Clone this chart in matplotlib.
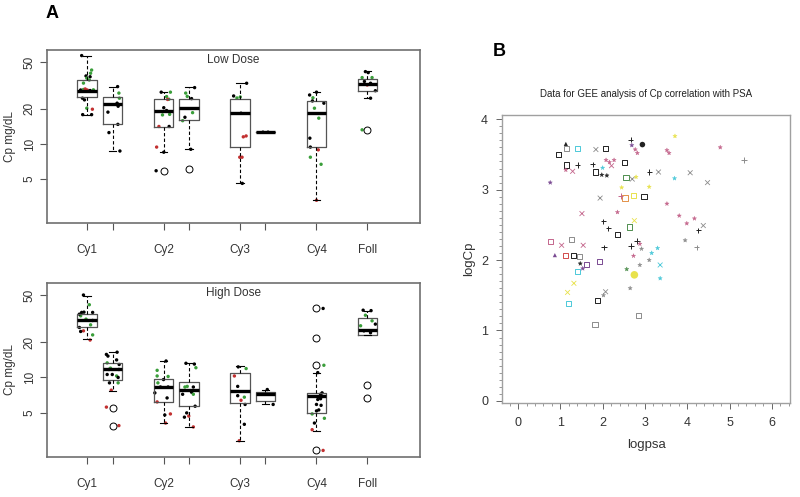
import numpy as np
import matplotlib
matplotlib.use('Agg')
import matplotlib.pyplot as plt
from matplotlib.ticker import FixedLocator, MultipleLocator, NullLocator, NullFormatter

plt.rcParams['font.family'] = ['Liberation Sans', 'DejaVu Sans']

# ---- panel A: box plots (Cp mg/dL, log scale) ----
positions = [1, 2, 4, 5, 7, 8, 10, 12]
xlabels = ['Cy1', '', 'Cy2', '', 'Cy3', '', 'Cy4', 'Foll']

low_whislo = [17.7, 8.7, 8.5, 9.0, 4.6, 12.6, 3.3, 24.6]
low_q1 = [25.1, 14.7, 14.0, 16.0, 9.4, 12.6, 9.4, 28.4]
low_med = [28.6, 21.8, 19.1, 20.4, 18.3, 12.6, 18.3, 32.7]
low_q3 = [35.2, 25.1, 24.1, 24.4, 24.4, 12.6, 23.3, 36.1]
low_whishi = [56.5, 30.9, 27.7, 30.6, 33.0, 12.6, 27.7, 42.1]
low_fliers = [[], [], [5.9], [6.1], [], [], [], [13.2]]

high_whislo = [21.1, 7.7, 4.1, 3.8, 2.9, 5.9, 3.5, 23.0]
high_q1 = [26.9, 9.6, 6.2, 5.7, 6.1, 6.3, 5.0, 23.0]
high_med = [30.7, 11.9, 8.3, 7.9, 7.7, 7.2, 6.9, 25.4]
high_q3 = [34.7, 13.3, 9.7, 9.1, 11.0, 7.5, 7.4, 31.9]
high_whishi = [49.5, 16.4, 13.8, 13.2, 12.5, 7.9, 11.0, 36.9]
high_fliers = [[], [5.5, 3.9], [], [], [], [], [38.6, 21.6, 12.7, 2.4], [8.6, 6.7]]

# individual patients (group index, jitter, value, colour code)
low_grp = [0]*20 + [1]*9 + [2]*14 + [3]*9 + [4]*10 + [5]*2 + [6]*13 + [7]*10
low_jit = [-0.21, 0.18, 0.14, -0.04, 0.12, -0.01, 0.09, -0.14, -0.25, -0.14, -0.07, 0.01, 0.12, 0.25, -0.18, -0.10, -0.01, 0.21, -0.17, 0.18,
           0.20, 0.25, 0.27, 0.18, 0.22, -0.18, 0.21, -0.14, 0.29,
           -0.09, 0.27, 0.12, 0.21, 0.16, 0.01, 0.12, -0.04, 0.24, -0.18, 0.22, -0.27, 0.01, -0.29,
           0.22, -0.13, -0.07, 0.10, 0.14, -0.16, -0.25, 0.07, -0.03,
           0.26, -0.25, -0.12, 0.01, 0.04, 0.13, 0.24, -0.01, 0.08, 0.09,
           -0.10, 0.10,
           0.0, -0.27, -0.14, -0.16, 0.29, -0.08, 0.09, -0.26, -0.24, 0.07, -0.24, 0.18, 0.0,
           0.03, -0.08, -0.21, 0.18, -0.12, -0.01, 0.12, 0.31, 0.12, -0.21]
low_val = [56.9, 42.8, 40.2, 38.1, 37.5, 36.5, 35.2, 33.1, 28.9, 29.2, 29.5, 28.9, 28.6, 29.0, 24.6, 23.8, 20.2, 19.8, 17.8, 17.8,
           30.9, 27.2, 24.6, 22.3, 21.0, 18.7, 14.7, 12.5, 8.7,
           27.7, 27.7, 25.4, 24.1, 24.0, 20.4, 19.3, 17.7, 17.9, 14.1, 14.1, 9.4, 8.5, 5.9,
           30.3, 27.2, 25.5, 24.4, 18.5, 16.9, 15.8, 9.0, 6.1,
           33.0, 25.7, 24.7, 25.2, 18.3, 11.5, 11.7, 7.7, 7.7, 4.6,
           12.6, 12.6,
           27.7, 26.2, 24.8, 23.3, 22.3, 20.2, 16.6, 11.2, 9.4, 8.9, 7.7, 6.7, 3.3,
           40.7, 41.5, 36.9, 36.9, 34.2, 31.9, 33.0, 28.5, 24.6, 13.2]
low_col = list('kggkkgggkgrrkgkkgrkk' 'kggkkkkkk' 'kgggrkkggrkrkk' 'kggkgkgkk'
               'kkggkrrrrk' 'kk' 'kkgkkggkkrggr' 'kkggkrkkkg')

high_grp = [0]*15 + [1]*18 + [2]*14 + [3]*14 + [4]*10 + [5]*5 + [6]*16 + [7]*9
high_jit = [-0.14, 0.09, -0.21, -0.12, 0.22, -0.25, -0.30, -0.04, 0.22, 0.14, -0.30, -0.14, -0.25, 0.22, 0.12,
            -0.24, -0.18, 0.18, -0.21, 0.16, 0.26, -0.14, -0.08, 0.25, -0.01, -0.21, 0.16, 0.22, -0.12, 0.22, -0.05, -0.24, 0.25,
            0.10, -0.25, 0.18, -0.25, 0.0, -0.22, 0.18, -0.12, -0.34, 0.14, -0.25, 0.05, 0.27, 0.08,
            -0.12, 0.21, 0.27, -0.16, 0.17, -0.07, 0.10, -0.25, 0.17, 0.24, -0.09, -0.01, -0.18, 0.17,
            -0.07, 0.24, -0.22, -0.09, -0.09, 0.17, 0.04, 0.20, 0.17, -0.03,
            0.07, -0.24, -0.08, 0.26, 0.30,
            0.26, 0.29, 0.05, 0.16, 0.22, 0.05, 0.16, 0.0, 0.18, 0.09, -0.17, 0.0, 0.31, -0.08, -0.17, 0.26,
            -0.17, 0.14, -0.08, 0.18, 0.31, -0.27, -0.14, 0.12, -0.08]
high_val = [50.2, 41.5, 35.7, 35.9, 35.7, 33.4, 34.5, 31.3, 30.5, 28.0, 26.6, 24.9, 24.6, 23.0, 20.8,
            15.7, 15.2, 16.4, 13.3, 14.1, 12.9, 11.7, 12.0, 11.7, 10.6, 10.6, 10.3, 10.0, 9.0, 9.0, 7.8, 5.6, 3.9,
            13.8, 11.5, 10.2, 10.3, 9.6, 9.0, 8.3, 8.3, 7.4, 6.7, 6.2, 4.8, 4.9, 4.1,
            13.2, 13.0, 12.1, 8.3, 8.3, 8.4, 7.5, 7.2, 7.2, 5.7, 5.0, 4.7, 4.6, 3.8,
            12.3, 11.9, 10.3, 8.4, 7.0, 6.8, 6.4, 5.9, 4.0, 2.9,
            7.9, 7.2, 7.3, 7.2, 5.9,
            38.6, 12.7, 11.0, 7.2, 7.4, 6.5, 6.6, 5.9, 5.8, 5.3, 4.9, 5.2, 4.5, 4.1, 3.6, 2.4,
            37.3, 37.0, 33.8, 30.3, 28.4, 27.5, 24.9, 24.0, 6.7]
high_col = list('kgkkkgkgkgkrkgr' 'kkkgkkkgkkkgkkgrrr' 'kgggkgkkkkrkrr' 'kkggkgkkgkkrkr'
                'kgrkkgrkkr' 'kkkkk' 'kgkkkkkkkkgkgkrr' 'kkggkgkkr')

dot_colours = {'k': '#000000', 'g': '#3a9e3a', 'r': '#c23030'}

# ---- panel B: scatter logCp vs logpsa ----
sq_x = [0.96, 1.40, 2.06, 1.15, 1.84, 2.51, 2.55, 2.53, 2.73, 2.98, 2.63, 2.35, 0.77, 1.27, 1.13, 1.31, 1.45, 1.62, 1.92, 1.41, 1.19, 1.88, 1.82, 2.84, 1.15]
sq_y = [3.50, 3.58, 3.58, 3.35, 3.25, 3.39, 3.17, 2.88, 2.92, 2.90, 2.47, 2.36, 2.26, 2.29, 2.06, 2.06, 2.05, 1.94, 1.98, 1.84, 1.38, 1.43, 1.09, 1.21, 3.58]
sq_c = ['k', 'c', 'k', 'k', 'k', 'k', 'g', 'o', 'y', 'k', 'g', 'k', 'p', 'gr', 'r', 'k', 'gr', 'pu', 'pu', 'c', 'c', 'k', 'gr', 'gr', 'gr']

cr_x = [1.84, 1.29, 2.21, 2.70, 1.94, 1.51, 2.75, 1.03, 1.54, 3.32, 4.07, 4.48, 4.38, 1.32, 1.17, 3.36, 2.07]
cr_y = [3.57, 3.26, 3.34, 3.15, 2.88, 2.66, 2.56, 2.21, 2.21, 3.25, 3.24, 3.10, 2.49, 1.67, 1.54, 1.93, 1.55]
cr_c = ['gr', 'p', 'p', 'gr', 'gr', 'p', 'y', 'p', 'p', 'gr', 'gr', 'gr', 'gr', 'y', 'y', 'c', 'gr']

pl_x = [2.66, 1.41, 1.76, 2.43, 2.02, 2.13, 2.03, 2.67, 2.81, 3.10, 5.34, 4.26, 4.22]
pl_y = [3.71, 3.35, 3.36, 2.91, 2.55, 2.45, 2.18, 2.20, 2.27, 3.25, 3.42, 2.42, 2.18]
pl_c = ['k', 'k', 'k', 'p', 'k', 'k', 'k', 'k', 'k', 'k', 'gr', 'k', 'gr']

st_x = [2.69, 2.77, 2.82, 1.13, 1.98, 2.10, 2.08, 2.16, 2.27, 0.76, 2.35, 3.71, 3.52, 3.57, 4.78, 3.70, 3.10, 3.52, 3.81,
        3.99, 4.17, 3.95, 3.30, 3.16, 1.47, 1.53, 2.02, 2.65, 2.57, 2.88, 2.73, 2.92, 2.88, 3.36, 2.00, 2.79, 2.45, 3.10]
st_y = [3.63, 3.57, 3.52, 3.28, 3.21, 3.20, 3.42, 3.39, 3.42, 3.10, 2.68, 3.76, 3.56, 3.52, 3.60, 3.16, 3.04, 2.80, 2.63,
        2.52, 2.59, 2.28, 2.17, 2.10, 1.95, 1.88, 1.50, 1.60, 1.87, 1.93, 2.06, 2.16, 2.23, 1.74, 3.31, 3.18, 3.03, 2.00]
st_c = ['pu', 'p', 'p', 'p', 'k', 'k', 'p', 'p', 'p', 'pu', 'p', 'y', 'p', 'p', 'p', 'c', 'y', 'p', 'p',
        'p', 'p', 'gr', 'c', 'c', 'k', 'pu', 'gr', 'gr', 'g', 'gr', 'p', 'gr', 'p', 'c', 'c', 'y', 'y', 'gr']

tri_x = [1.13, 0.87]
tri_y = [3.65, 2.07]
tri_c = ['k', 'pu']

dot_x = [2.94, 2.75]
dot_y = [3.64, 1.79]
dot_c = ['k', 'y']

b_colours = {'k': '#222222', 'gr': '#8c8c8c', 'p': '#c4668c', 'pu': '#7a4a92', 'c': '#4cc9d9',
             'y': '#e8e24c', 'g': '#4f8f4f', 'r': '#d24c4c', 'o': '#e39148'}

fig = plt.figure(figsize=(8.0, 4.97), dpi=100)

frame_col = '#707070'


def box_panel(ax, whislo, q1, med, q3, whishi, fliers, grp, jit, val, col, title):
    stats = []
    for i in range(len(positions)):
        stats.append(dict(whislo=whislo[i], q1=q1[i], med=med[i], q3=q3[i],
                          whishi=whishi[i], fliers=fliers[i]))
    # jittered points first, box on top
    xs = [positions[g] + j for g, j in zip(grp, jit)]
    ax.scatter(xs, val, s=6, c=[dot_colours[c] for c in col], linewidths=0, zorder=2)
    ax.bxp(stats, positions=positions, widths=0.75, capwidths=0.3,
           boxprops=dict(color='#555555', linewidth=0.9),
           medianprops=dict(color='black', linewidth=2.4, solid_capstyle='butt'),
           whiskerprops=dict(color='black', linewidth=0.8, linestyle=(0, (3, 2))),
           capprops=dict(color='black', linewidth=0.8),
           flierprops=dict(marker='o', markerfacecolor='white', markeredgecolor='black',
                           markersize=5, markeredgewidth=0.7),
           manage_ticks=False, zorder=3)
    ax.set_yscale('log')
    ax.set_ylim(2.11, 63.5)
    ax.set_xlim(-0.57, 14.06)
    ax.yaxis.set_major_locator(FixedLocator([5, 10, 20, 50]))
    ax.yaxis.set_minor_locator(NullLocator())
    ax.yaxis.set_minor_formatter(NullFormatter())
    ax.set_yticks([5, 10, 20, 50])
    ax.set_yticklabels(['5', '10', '20', '50'], rotation=90, va='center', fontsize=8.5, color='#333333')
    ax.set_xticks(positions)
    ax.set_xticklabels(xlabels, fontsize=8.5, color='#333333')
    ax.tick_params(axis='x', length=5, width=0.8, color='#555555', pad=10)
    ax.tick_params(axis='y', length=5, width=0.8, color='#555555', pad=3)
    for s in ax.spines.values():
        s.set_color(frame_col)
        s.set_linewidth(1.2)
    ax.set_ylabel('Cp mg/dL', fontsize=8.5, color='#333333')
    ax.yaxis.set_label_coords(-0.084, 0.5)
    ax.text(0.5, 0.94, title, transform=ax.transAxes, ha='center', va='center',
            fontsize=8.5, color='#333333')


ax1 = fig.add_axes([47/800, 1 - 223/497, 373/800, 173/497])
box_panel(ax1, low_whislo, low_q1, low_med, low_q3, low_whishi, low_fliers,
          low_grp, low_jit, low_val, low_col, 'Low Dose')
ax2 = fig.add_axes([47/800, 1 - 457/497, 373/800, 174/497])
box_panel(ax2, high_whislo, high_q1, high_med, high_q3, high_whishi, high_fliers,
          high_grp, high_jit, high_val, high_col, 'High Dose')

fig.text(52/800, 1 - 14/497, 'A', fontsize=13, fontweight='bold', ha='center', va='center')
fig.text(499/800, 1 - 51/497, 'B', fontsize=13, fontweight='bold', ha='center', va='center')

# ---- panel B ----
axb = fig.add_axes([502/800, 1 - 403/497, 288/800, 288/497])
axb.scatter(sq_x, sq_y, s=14, marker='s', facecolors='none',
            edgecolors=[b_colours[c] for c in sq_c], linewidths=0.7, zorder=3)
axb.scatter(cr_x, cr_y, s=12, marker='x', c=[b_colours[c] for c in cr_c], linewidths=0.6, zorder=3)
axb.scatter(pl_x, pl_y, s=14, marker='+', c=[b_colours[c] for c in pl_c], linewidths=0.7, zorder=3)
axb.scatter(st_x, st_y, s=10, marker='*', c=[b_colours[c] for c in st_c], linewidths=0.3, zorder=3)
axb.scatter(tri_x, tri_y, s=9, marker='^', c=[b_colours[c] for c in tri_c], linewidths=0, zorder=3)
axb.scatter(dot_x, dot_y, s=[16, 30], marker='o', c=[b_colours[c] for c in dot_c], linewidths=0, zorder=3)

axb.set_xlim(-0.38, 6.43)
axb.set_ylim(-0.03, 4.06)
axb.xaxis.set_major_locator(MultipleLocator(1))
axb.xaxis.set_minor_locator(MultipleLocator(0.2))
axb.yaxis.set_major_locator(MultipleLocator(1))
axb.yaxis.set_minor_locator(MultipleLocator(0.1))
axb.tick_params(which='major', length=4, width=0.7, color='#666666', labelsize=9,
                labelcolor='#333333', pad=6)
axb.tick_params(which='minor', length=2, width=0.6, color='#888888')
for s in axb.spines.values():
    s.set_color('#a0a0a0')
    s.set_linewidth(1.0)
axb.set_xlabel('logpsa', fontsize=9.5, color='#333333', labelpad=7)
axb.set_ylabel('logCp', fontsize=9.5, color='#333333', labelpad=4)
axb.set_title('Data for GEE analysis of Cp correlation with PSA', fontsize=7, color='#222222', pad=13)

fig.savefig('out.png', dpi=100)
